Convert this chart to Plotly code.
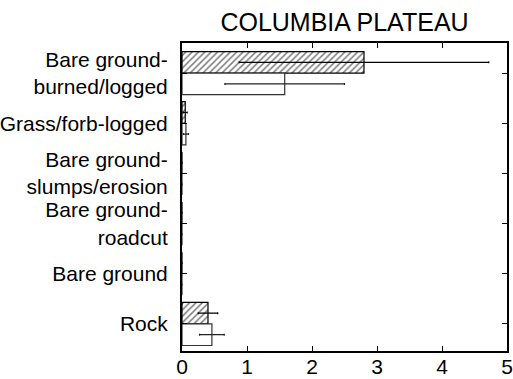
import plotly.graph_objects as go

# categories from bottom (Rock) to top
categories = [
    "Rock",
    "Bare ground",
    "Bare ground-<br>roadcut",
    "Bare ground-<br>slumps/erosion",
    "Grass/forb-logged",
    "Bare ground-<br>burned/logged",
]
positions = [0, 1, 2, 3, 4, 5]

hatched_vals = [0.40, 0, 0, 0, 0.05, 2.80]
hatched_err = [0.15, 0, 0, 0, 0.03, 1.92]

open_vals = [0.46, 0, 0, 0, 0.06, 1.58]
open_err = [0.19, 0, 0, 0, 0.04, 0.92]

x_ticks = [0, 1, 2, 3, 4, 5]

bar_w = 0.43

fig = go.Figure()

fig.add_trace(
    go.Bar(
        y=positions,
        x=hatched_vals,
        orientation="h",
        width=bar_w,
        offset=0,
        marker=dict(
            color="white",
            line=dict(color="black", width=1.2),
            pattern=dict(shape="/", fgcolor="black", bgcolor="white", size=4.5, solidity=0.35),
        ),
        error_x=dict(type="data", array=hatched_err, color="black", thickness=1.2, width=1),
        showlegend=False,
    )
)

fig.add_trace(
    go.Bar(
        y=positions,
        x=open_vals,
        orientation="h",
        width=bar_w,
        offset=-bar_w,
        marker=dict(color="white", line=dict(color="#333", width=1.2)),
        error_x=dict(type="data", array=open_err, color="#222", thickness=1.2, width=1),
        showlegend=False,
    )
)

fig.update_layout(
    width=513,
    height=379,
    margin=dict(l=182, r=6, t=43, b=28),
    paper_bgcolor="white",
    plot_bgcolor="white",
    font=dict(family="Liberation Sans, Arial, sans-serif", color="black", size=21),
    title=dict(
        text="COLUMBIA PLATEAU",
        x=0.5,
        xref="paper",
        xanchor="center",
        y=1,
        yref="container",
        yanchor="top",
        pad=dict(t=13),
        font=dict(size=25),
    ),
    barmode="overlay",
)

fig.update_xaxes(
    range=[0, 5],
    tickvals=x_ticks,
    ticks="inside",
    ticklen=5,
    tickcolor="black",
    showline=True,
    linecolor="black",
    linewidth=1.5,
    mirror="ticks",
    showgrid=False,
    zeroline=False,
    tickfont=dict(size=21),
    ticklabeloverflow="allow",
    ticklabelstandoff=-4,
    automargin=False,
)

fig.update_yaxes(
    range=[-0.54, 5.6],
    tickvals=positions,
    ticktext=categories,
    ticks="inside",
    ticklen=5,
    tickcolor="black",
    showline=True,
    linecolor="black",
    linewidth=2,
    mirror="ticks",
    showgrid=False,
    zeroline=False,
    ticklabelstandoff=8,
    automargin=False,
)

# drop the browser's default body margin so the figure fills the window
fig.write_html(
    "out.html",
    config=dict(displayModeBar=False),
    post_script="document.body.style.margin='0';",
)
